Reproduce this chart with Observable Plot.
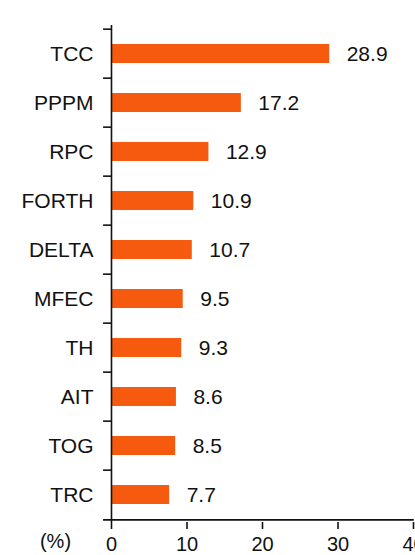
<!DOCTYPE html>
<html>
<head>
<meta charset="utf-8">
<script src="https://cdn.jsdelivr.net/npm/d3@7"></script>
<script src="https://cdn.jsdelivr.net/npm/@observablehq/plot@0.6"></script>
<style>
  html, body { margin: 0; padding: 0; background: #fff; }
  svg { display: block; }
</style>
</head>
<body>
<div id="chart"></div>
<script>
const categories = ["TCC", "PPPM", "RPC", "FORTH", "DELTA", "MFEC", "TH", "AIT", "TOG", "TRC"];
const values = [28.9, 17.2, 12.9, 10.9, 10.7, 9.5, 9.3, 8.6, 8.5, 7.7];
const xTicks = [0, 10, 20, 30, 40];
const unitLabel = "(%)";

const data = categories.map((c, i) => ({category: c, value: values[i]}));

const W = 415, H = 555;
const mTop = 25, mBottom = 33, mLeft = 111, mRight = 2;
const step = (H - mTop - mBottom) / categories.length;
const font = "Liberation Sans, Arial, Helvetica, sans-serif";
const orange = "#f55a0f";

const chart = Plot.plot({
  width: W,
  height: H,
  marginTop: mTop,
  marginBottom: mBottom,
  marginLeft: mLeft,
  marginRight: mRight,
  style: {fontFamily: font, fontSize: "20px", color: "#111", background: "#fff", overflow: "visible"},
  x: {domain: [0, 40], axis: null, label: null},
  y: {domain: categories, padding: 0, axis: null, label: null},
  marks: [
    Plot.barX(data, {x: "value", y: "category", fill: orange, insetTop: 15, insetBottom: 15}),
    Plot.text(data, {x: "value", y: "category", text: d => d.value.toFixed(1), dx: 17, textAnchor: "start", fontSize: 21, fill: "#111"}),
    // y axis labels
    Plot.axisY({tickSize: 0, tickPadding: 18, fontSize: 21, fill: "#111", label: null}),
    // y axis line
    Plot.ruleX([0], {stroke: "#111", strokeWidth: 1.6}),
    // y band boundary ticks
    Plot.ruleY(categories, {y: d => d, x1: -1.05, x2: 0, dy: -step / 2, stroke: "#111", strokeWidth: 1.6}),
    // x axis line (also bottom boundary tick)
    Plot.ruleY([categories[categories.length - 1]], {x1: -1.05, x2: 40.1, dy: step / 2, stroke: "#111", strokeWidth: 1.6}),
    // x axis ticks & labels
    Plot.axisX({ticks: xTicks, tickSize: 7, tickPadding: 7, fontSize: 20, stroke: "#111", strokeWidth: 1.6, fill: "#111", tickFormat: d => String(d), label: null}),
    Plot.text([unitLabel], {frameAnchor: "bottom-left", textAnchor: "middle", lineAnchor: "middle", dx: -56, dy: 19, fontSize: 20, fill: "#111"})
  ]
});
document.getElementById("chart").appendChild(chart);
</script>
</body>
</html>
